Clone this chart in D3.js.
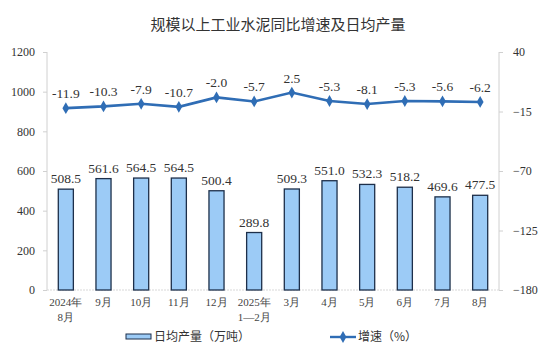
<!DOCTYPE html>
<html><head><meta charset="utf-8">
<script src="https://cdn.jsdelivr.net/npm/d3@7"></script>
<style>
body{margin:0;background:#fff;}
svg{display:block;}
</style></head>
<body>
<svg id="c" width="550" height="357"></svg>
<script>
const categories = [["2024年","8月"],["9月"],["10月"],["11月"],["12月"],["2025年","1—2月"],["3月"],["4月"],["5月"],["6月"],["7月"],["8月"]];
const output = [508.5,561.6,564.5,564.5,500.4,289.8,509.3,551.0,532.3,518.2,469.6,477.5];
const growth = [-11.9,-10.3,-7.9,-10.7,-2.0,-5.7,2.5,-5.3,-8.1,-5.3,-5.6,-6.2];
const leftTicks = [0,200,400,600,800,1000,1200];
const rightTicks = [-180,-125,-70,-15,40];
const title = "规模以上工业水泥同比增速及日均产量";
const legendBar = "日均产量（万吨）";
const legendLine = "增速（%）";

const SERIF = "'Liberation Serif', 'DejaVu Serif', serif";
const CJK = "'Noto Sans CJK SC', sans-serif";
const svg = d3.select("#c");
const L = 47, R = 499, T = 52, B = 290;

const x = d3.scaleBand().domain(d3.range(categories.length)).range([L,R]).paddingInner(0.6).paddingOuter(0.3);
const yL = d3.scaleLinear().domain([0,1200]).range([B,T]);
const yR = d3.scaleLinear().domain([-180,40]).range([B,T]);
const xc = i => x(i) + x.bandwidth()/2;

svg.append("text").style("font-family",CJK).attr("x",278).attr("y",30).attr("text-anchor","middle")
  .attr("font-size",15).attr("fill","#333").text(title);

// axes
const axL = svg.append("g").attr("transform",`translate(${L},0)`).call(d3.axisLeft(yL).tickValues(leftTicks).tickFormat(d3.format("d")).tickSize(4).tickSizeOuter(0).tickPadding(8));
const axR = svg.append("g").attr("transform",`translate(${R},0)`).call(d3.axisRight(yR).tickValues(rightTicks).tickFormat(d3.format("d")).tickSize(4).tickSizeOuter(0).tickPadding(10));
[axL,axR].forEach(a=>{
  a.style("font-family",SERIF);
  a.selectAll("path,line").attr("stroke","#d0d0d0");
  a.selectAll("text").style("font-family",SERIF).attr("font-size",12).attr("fill","#333");
});
axL.select(".domain").remove(); axR.select(".domain").remove();
svg.append("line").attr("x1",L).attr("x2",L).attr("y1",T).attr("y2",B).attr("stroke","#d0d0d0");
svg.append("line").attr("x1",R).attr("x2",R).attr("y1",T).attr("y2",B).attr("stroke","#d0d0d0");
svg.append("line").attr("x1",L).attr("x2",R).attr("y1",B).attr("y2",B).attr("stroke","#d8d8d8").attr("stroke-dasharray","2,1");

// bars
svg.append("g").selectAll("rect").data(output).join("rect")
  .attr("x",(d,i)=>x(i)).attr("width",x.bandwidth())
  .attr("y",d=>yL(d)).attr("height",d=>B-yL(d))
  .attr("fill","#9ccbf6").attr("stroke","#1d2f4a").attr("stroke-width",1.3);
svg.append("g").selectAll("text").data(output).join("text").style("font-family",SERIF)
  .attr("x",(d,i)=>xc(i)).attr("y",d=>yL(d)-6).attr("text-anchor","middle")
  .attr("font-size",13.5).attr("fill","#333").text(d=>d.toFixed(1));

// line
const line = d3.line().x((d,i)=>xc(i)).y(d=>yR(d));
svg.append("path").datum(growth).attr("d",line).attr("fill","none").attr("stroke","#2f6db5").attr("stroke-width",2.6);
const diamond = d3.symbol().type(d3.symbolDiamond).size(40);
svg.append("g").selectAll("path").data(growth).join("path")
  .attr("transform",(d,i)=>`translate(${xc(i)},${yR(d)})`).attr("d",diamond).attr("fill","#2f6db5");
svg.append("g").selectAll("text").data(growth).join("text").style("font-family",SERIF)
  .attr("x",(d,i)=>xc(i)).attr("y",d=>yR(d)-10).attr("text-anchor","middle")
  .attr("font-size",13.5).attr("fill","#333").text(d=>d.toFixed(1));

// x labels
const xl = svg.append("g");
categories.forEach((c,i)=>{
  c.forEach((s,j)=>{
    xl.append("text").style("font-family",SERIF).attr("x",xc(i)).attr("y",306+j*15).attr("text-anchor","middle")
      .attr("font-size",11).attr("fill","#444").text(s);
  });
});

// legend
svg.append("rect").attr("x",126).attr("y",334).attr("width",25).attr("height",5)
  .attr("fill","#9ccbf6").attr("stroke","#1d2f4a").attr("stroke-width",1);
svg.append("text").style("font-family",CJK).attr("x",154).attr("y",341).attr("font-size",12).attr("fill","#333").text(legendBar);
svg.append("line").attr("x1",330).attr("x2",356).attr("y1",337).attr("y2",337).attr("stroke","#2f6db5").attr("stroke-width",2.4);
svg.append("path").attr("transform","translate(343,337)").attr("d",diamond).attr("fill","#2f6db5");
svg.append("text").style("font-family",CJK).attr("x",358).attr("y",341).attr("font-size",12).attr("fill","#333").text(legendLine);
</script>
</body></html>
